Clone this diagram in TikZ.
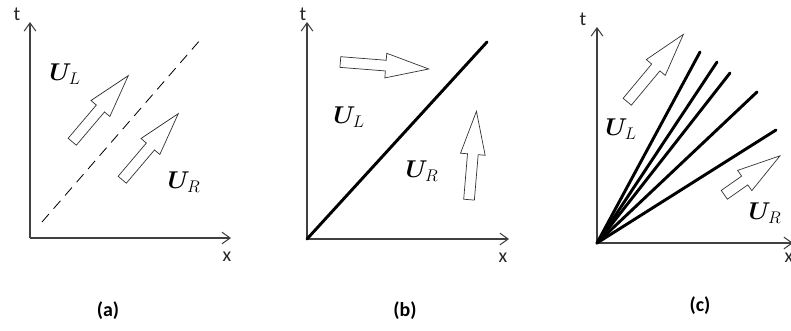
\documentclass[tikz,border=0pt]{standalone}
\usepackage{amsmath,amssymb}
\usepackage{bm}
\usepackage{fontspec}
\newfontfamily\calibri{Carlito}
\usetikzlibrary{shapes,arrows,arrows.meta,positioning,calc}

\tikzset{
  axis/.style={line width=0.9pt, draw=black!75, -{Straight Barb[length=7pt,width=10pt]}},
  axlabel/.style={font=\calibri\fontsize{17}{20}\selectfont, text=black!85, inner sep=0pt},
  caption/.style={font=\calibri\bfseries\fontsize{17}{20}\selectfont, inner sep=0pt},
  state/.style={font=\fontsize{22}{26}\selectfont, inner sep=0pt},
  shock/.style={line width=2.5pt, line cap=round},
  fatarrow/.style={single arrow, draw=black!80, line width=0.6pt, fill=white,
    minimum height=#1, inner xsep=0pt, inner ysep=0.15cm,
    single arrow head extend=0.21cm, single arrow tip angle=32, anchor=tail}
}

\begin{document}
\begin{tikzpicture}[x=0.03cm, y=-0.03cm]
\useasboundingbox (0,0) rectangle (791,330);

% (a) contact line
\coordinate (oA) at (30,238);
\coordinate (tA) at (30,22);
\coordinate (xA) at (231,238);
\draw[axis] (oA) -- (tA);
\draw[axis] (oA) -- (xA);
\node[axlabel] (labtA) at (17,14) {t};
\node[axlabel] (labxA) at (227,257) {x};
\draw[line width=0.7pt, dash pattern=on 9pt off 6pt] (42,222) coordinate (dA1) -- (201,39) coordinate (dA2);
\node[fatarrow=2.6cm, rotate=49.7] (arrLA) at (72,142) {};
\node[fatarrow=2.6cm, rotate=49.7] (arrRA) at (122,180) {};
\node[state] (ULA) at (65,74) {$\bm{U}_L$};
\node[state] (URA) at (184,182) {$\bm{U}_R$};
\node[caption] (capA) at (108,311) {(a)};

% (b) single shock
\coordinate (oB) at (307,239);
\coordinate (tB) at (307,22);
\coordinate (xB) at (509,239);
\draw[axis] (oB) -- (tB);
\draw[axis] (oB) -- (xB);
\node[axlabel] (labtB) at (303,14) {t};
\node[axlabel] (labxB) at (503,258) {x};
\coordinate (sB) at (487,42);
\draw[shock] (oB) -- (sB);
\node[fatarrow=2.66cm, rotate=-4.5] (arrLB) at (340,62) {};
\node[fatarrow=2.66cm, rotate=85.2] (arrRB) at (469,200) {};
\node[state] (ULB) at (349,117) {$\bm{U}_L$};
\node[state] (URB) at (422,171) {$\bm{U}_R$};
\node[caption] (capB) at (405,311) {(b)};

% (c) fan
\coordinate (oC) at (597,243);
\coordinate (tC) at (597,27);
\coordinate (xC) at (793,243);
\draw[axis] (oC) -- (tC);
\draw[axis] (oC) -- (xC);
\node[axlabel] (labtC) at (583,19) {t};
\node[axlabel] (labxC) at (789,258) {x};
\foreach \ex/\ey in {700/52, 717/62, 730/73, 757/92, 776/130}
  \draw[shock] (oC) -- (\ex,\ey);
\node[fatarrow=2.63cm, rotate=50.2] (arrLC) at (627,102) {};
\node[fatarrow=2.04cm, rotate=35] (arrRC) at (724,195) {};
\node[state] (ULC) at (621,129) {$\bm{U}_L$};
\node[state] (URC) at (765,213) {$\bm{U}_R$};
\node[caption] (capC) at (700,306) {(c)};
\end{tikzpicture}
\end{document}
